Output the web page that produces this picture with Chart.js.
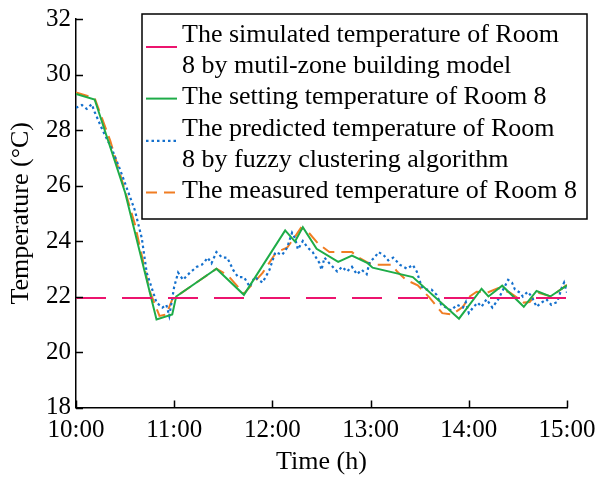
<!DOCTYPE html>
<html>
<head>
<meta charset="utf-8">
<script src="https://cdn.jsdelivr.net/npm/chart.js@4/dist/chart.umd.min.js"></script>
<style>
  html, body { margin: 0; padding: 0; background: #fff; }
  #wrap { width: 596px; height: 478px; }
</style>
</head>
<body>
<div id="wrap"><canvas id="myChart" width="596" height="478"></canvas></div>
<script>
// series data (time in hours, temperature in degC)
const simTime = [10, 15];
const simTemp = [21.95, 21.95];

const setTime = [10.0, 10.19, 10.5, 10.82, 10.98, 11.02, 11.43, 11.71, 12.13, 12.23, 12.31, 12.45, 12.67, 12.81, 12.97, 13.02, 13.43, 13.9, 14.13, 14.2, 14.34, 14.56, 14.69, 14.83, 15.0];
const setTemp = [29.3, 29.1, 25.75, 21.17, 21.35, 22.0, 23.0, 22.06, 24.38, 23.98, 24.5, 23.72, 23.25, 23.47, 23.2, 23.04, 22.7, 21.2, 22.28, 22.0, 22.39, 21.63, 22.2, 22.0, 22.4];

const predTime = [10.0, 10.06, 10.11, 10.16, 10.19, 10.27, 10.37, 10.45, 10.6, 10.67, 10.72, 10.82, 10.88, 10.92, 10.95, 11.0, 11.04, 11.09, 11.16, 11.23, 11.28, 11.31, 11.34, 11.38, 11.43, 11.49, 11.54, 11.6, 11.65, 11.71, 11.77, 11.82, 11.9, 11.97, 12.03, 12.1, 12.15, 12.2, 12.23, 12.26, 12.31, 12.36, 12.41, 12.48, 12.5, 12.53, 12.58, 12.66, 12.71, 12.76, 12.81, 12.86, 12.91, 12.96, 12.99, 13.04, 13.08, 13.13, 13.18, 13.23, 13.3, 13.37, 13.43, 13.47, 13.52, 13.57, 13.62, 13.67, 13.72, 13.77, 13.82, 13.88, 13.94, 13.97, 14.0, 14.05, 14.09, 14.13, 14.18, 14.24, 14.3, 14.35, 14.4, 14.44, 14.47, 14.52, 14.55, 14.6, 14.64, 14.69, 14.74, 14.79, 14.84, 14.9, 14.95, 14.97, 15.0];
const predTemp = [28.8, 28.9, 28.76, 28.93, 28.65, 28.0, 27.28, 26.56, 25.1, 24.1, 22.86, 21.78, 21.6, 21.7, 21.3, 22.35, 22.86, 22.6, 22.86, 23.07, 23.14, 23.25, 23.4, 23.2, 23.6, 23.4, 23.4, 22.96, 22.7, 22.7, 22.35, 22.7, 22.5, 22.96, 23.6, 23.5, 23.76, 24.3, 24.1, 23.7, 24.0, 23.76, 23.6, 23.2, 22.96, 23.4, 23.2, 22.9, 23.07, 22.9, 23.07, 22.8, 22.96, 22.8, 23.25, 23.4, 23.6, 23.5, 23.3, 23.4, 23.14, 23.0, 23.14, 22.9, 22.35, 22.25, 22.25, 22.07, 21.7, 21.6, 21.5, 21.7, 21.6, 21.8, 21.4, 21.63, 21.78, 21.63, 21.9, 21.6, 21.9, 22.25, 22.6, 22.5, 22.25, 22.14, 22.0, 22.17, 22.0, 21.63, 21.78, 21.9, 21.7, 21.8, 22.35, 22.5, 22.14];

const measTime = [10.0, 10.19, 10.35, 10.6, 10.75, 10.85, 10.92, 10.98, 11.43, 11.55, 11.71, 11.76, 11.9, 12.04, 12.15, 12.22, 12.29, 12.37, 12.46, 12.58, 12.81, 12.88, 12.98, 13.05, 13.22, 13.27, 13.36, 13.48, 13.6, 13.73, 13.83, 13.94, 14.01, 14.08, 14.19, 14.3, 14.42, 14.56, 14.62, 14.7, 14.84, 15.0];
const measTemp = [29.35, 29.15, 27.6, 24.6, 22.2, 21.3, 21.35, 21.9, 23.0, 22.75, 22.1, 22.3, 22.85, 23.6, 23.76, 24.1, 24.47, 24.3, 23.93, 23.6, 23.6, 23.4, 23.2, 23.14, 23.14, 22.9, 22.6, 22.4, 21.96, 21.4, 21.35, 21.63, 22.0, 22.17, 22.14, 22.3, 22.14, 21.78, 21.8, 22.14, 22.0, 22.42];

const seriesLabels = [
	['The simulated temperature of Room', '8 by mutil-zone building model'],
	['The setting temperature of Room 8'],
	['The predicted temperature of Room', '8 by fuzzy clustering algorithm'],
	['The measured temperature of Room 8']
];
const xTicks = [10, 11, 12, 13, 14, 15];
const yTicks = [18, 20, 22, 24, 26, 28, 30, 32];

const FONT = "'Liberation Serif', 'Times New Roman', serif";
Chart.defaults.font.family = FONT;
Chart.defaults.color = '#000';

function pts(xs, ys) {
	return xs.map((x, i) => ({x: x, y: ys[i]}));
}

// tick marks drawn inward from the axis lines
const innerTicks = {
	id: 'innerTicks',
	afterDraw(chart) {
		const ctx = chart.ctx;
		const xs = chart.scales.x, ys = chart.scales.y;
		const a = chart.chartArea;
		ctx.save();
		ctx.strokeStyle = '#000';
		ctx.lineWidth = 1.5;
		ctx.beginPath();
		xTicks.forEach(v => {
			const px = Math.round(xs.getPixelForValue(v)) + 0.5;
			ctx.moveTo(px, a.bottom);
			ctx.lineTo(px, a.bottom - 7);
		});
		yTicks.forEach(v => {
			const py = Math.round(ys.getPixelForValue(v)) + 0.5;
			ctx.moveTo(a.left, py);
			ctx.lineTo(a.left + 7, py);
		});
		ctx.stroke();
		ctx.restore();
	}
};

// boxed legend with two-line entries
const boxLegend = {
	id: 'boxLegend',
	afterDraw(chart) {
		const ctx = chart.ctx;
		const bx = 142, by = 14, bw = 445, bh = 205;
		const lineH = 31.3;
		ctx.save();
		ctx.fillStyle = '#fff';
		ctx.fillRect(bx, by, bw, bh);
		ctx.strokeStyle = '#000';
		ctx.lineWidth = 1.5;
		ctx.strokeRect(bx, by, bw, bh);
		ctx.font = '26px ' + FONT;
		ctx.textBaseline = 'middle';
		ctx.fillStyle = '#000';
		let y = 35;
		chart.data.datasets.forEach((ds, i) => {
			const lines = seriesLabels[i];
			const sy = lines.length > 1 ? y + 12 : y + 1;
			ctx.save();
			ctx.strokeStyle = ds.borderColor;
			ctx.lineWidth = ds.borderWidth;
			ctx.setLineDash(ds.legendDash || []);
			ctx.beginPath();
			ctx.moveTo(146, sy);
			ctx.lineTo(177, sy);
			ctx.stroke();
			ctx.restore();
			lines.forEach((t, k) => {
				ctx.fillText(t, 182, y + k * lineH);
			});
			y += lines.length * lineH;
		});
		ctx.restore();
	}
};

const ctx = document.getElementById('myChart');
const myChart = new Chart(ctx, {
	type: 'line',
	data: {
		datasets: [{
			label: seriesLabels[0].join(' '),
			data: pts(simTime, simTemp),
			borderColor: 'rgb(236,20,110)',
			borderWidth: 2,
			borderDash: [30, 16],
			legendDash: [],
			pointRadius: 0
		}, {
			label: seriesLabels[1].join(' '),
			data: pts(setTime, setTemp),
			borderColor: 'rgb(30,172,72)',
			borderWidth: 2,
			pointRadius: 0
		}, {
			label: seriesLabels[2].join(' '),
			data: pts(predTime, predTemp),
			borderColor: 'rgb(20,112,205)',
			borderWidth: 2.2,
			borderDash: [2.5, 3],
			legendDash: [2.5, 3],
			pointRadius: 0
		}, {
			label: seriesLabels[3].join(' '),
			data: pts(measTime, measTemp),
			borderColor: 'rgb(240,125,35)',
			borderWidth: 2,
			borderDash: [13, 7],
			legendDash: [11, 7],
			pointRadius: 0
		}]
	},
	options: {
		responsive: false,
		animation: false,
		layout: { padding: { left: 4, right: 29, top: 19, bottom: 0 } },
		plugins: {
			legend: { display: false },
			tooltip: { enabled: false }
		},
		scales: {
			x: {
				type: 'linear',
				min: 10,
				max: 15,
				afterBuildTicks: (s) => { s.ticks = xTicks.map(v => ({value: v})); },
				afterFit: (s) => { s.height = 70.5; s.paddingLeft = 0; s.paddingRight = 0; },
				ticks: {
					color: '#000',
					font: { family: FONT, size: 25 },
					padding: 8,
					maxRotation: 0,
					callback: (v) => v + ':00'
				},
				grid: { display: false, drawTicks: false },
				border: { display: true, color: '#000', width: 1.5 },
				title: {
					display: true,
					text: 'Time (h)',
					color: '#000',
					font: { family: FONT, size: 26 },
					padding: { top: 0, bottom: 0 }
				}
			},
			y: {
				min: 18,
				max: 32,
				afterBuildTicks: (s) => { s.ticks = yTicks.map(v => ({value: v})); },
				afterFit: (s) => { s.width = 72; s.paddingTop = 0; s.paddingBottom = 0; },
				ticks: {
					color: '#000',
					font: { family: FONT, size: 25 },
					padding: 5
				},
				grid: { display: false, drawTicks: false },
				border: { display: true, color: '#000', width: 1.5 },
				title: {
					display: true,
					text: 'Temperature (°C)',
					color: '#000',
					font: { family: FONT, size: 26 },
					padding: { top: 2, bottom: 0 }
				}
			}
		}
	},
	plugins: [innerTicks, boxLegend]
});
</script>
</body>
</html>
